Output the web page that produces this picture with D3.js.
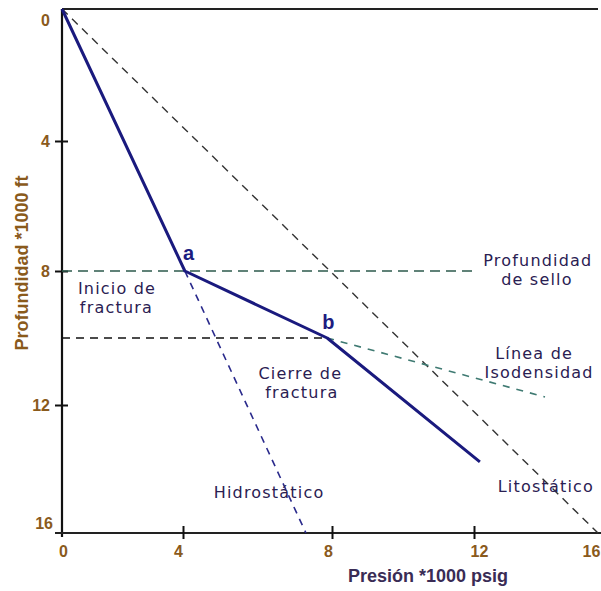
<!DOCTYPE html>
<html>
<head>
<meta charset="utf-8">
<script src="https://cdn.jsdelivr.net/npm/d3@7/dist/d3.min.js"></script>
<style>
  html, body { margin: 0; padding: 0; background: #fff; }
  svg { display: block; }
</style>
</head>
<body>
<svg id="chart" width="601" height="591"></svg>
<script>
// ---- data ----
const xTicks = [0, 4, 8, 12, 16];
const yTicks = [0, 4, 8, 12, 16];

const fracturePressure = [0, 4.05, 7.87, 12.19];
const fractureDepth    = [0, 8, 10, 13.78];

const hydroPressure = [4.05, 7.3];
const hydroDepth    = [8, 16];

const lithoPressure = [0, 16];
const lithoDepth    = [0, 16];

const isoPressure = [7.87, 14.29];
const isoDepth    = [10, 11.76];

const sealPressure = [0, 11.95];
const sealDepth    = [8, 8];

const closurePressure = [0, 7.87];
const closureDepth    = [10, 10];

const annotations = [
  { text: "Inicio de",   x: 1.82, y: 8.69 },
  { text: "fractura",    x: 1.8,  y: 9.25 },
  { text: "Cierre de",   x: 7.15, y: 11.22 },
  { text: "fractura",    x: 7.19, y: 11.79 },
  { text: "Hidrostático", x: 6.31, y: 14.9 },
  { text: "Litostático",  x: 14.32, y: 14.72 },
  { text: "Profundidad", x: 14.06, y: 7.86 },
  { text: "de sello",    x: 14.03, y: 8.43 },
  { text: "Línea de",    x: 13.94, y: 10.63 },
  { text: "Isodensidad", x: 14.1, y: 11.19 }
];
const points = [
  { text: "a", x: 4.15, y: 7.65 },
  { text: "b", x: 7.9,  y: 9.72 }
];

// ---- scales ----
const svg = d3.select("#chart");
const x = d3.scaleLinear().domain(xTicks).range([62, 183, 332, 474, 598]);
const y = d3.scaleLinear().domain(yTicks).range([9, 141, 271, 405, 533]);

const zip = (a, b) => a.map((v, i) => [v, b[i]]);
const line = d3.line().x(d => x(d[0])).y(d => y(d[1]));

// ---- frame ----
svg.append("line").attr("x1", x(0)).attr("x2", x(16)).attr("y1", y(0)).attr("y2", y(0))
  .attr("stroke", "#222").attr("stroke-width", 2);
svg.append("line").attr("x1", x(0)).attr("x2", x(0)).attr("y1", y(0)).attr("y2", y(16) + 4)
  .attr("stroke", "#111").attr("stroke-width", 2.2);
svg.append("line").attr("x1", x(0) - 7).attr("x2", x(16) + 3).attr("y1", y(16)).attr("y2", y(16))
  .attr("stroke", "#222").attr("stroke-width", 2.2);

// ---- axes ----
const yAxis = d3.axisLeft(y).tickValues(yTicks).tickSize(13).tickPadding(5).tickFormat(d3.format("d"));
const gy = svg.append("g").attr("transform", `translate(${x(0) + 6},0)`).call(yAxis);
gy.select(".domain").remove();
gy.selectAll(".tick line").attr("stroke", "#111").attr("stroke-width", 2)
  .style("display", d => (d === 0 || d === 16) ? "none" : null);
gy.selectAll(".tick text")
  .attr("font-family", "'Liberation Sans', Arial, sans-serif")
  .attr("font-weight", "bold").attr("font-size", 16).attr("fill", "#8a5a1c")
  .attr("dy", d => d === 0 ? "1.0em" : d === 16 ? "-0.3em" : "0.34em")
  .attr("dx", d => d === 16 ? 3 : 0);

const xAxis = d3.axisBottom(x).tickValues(xTicks).tickSize(13).tickPadding(7).tickFormat(d3.format("d"));
const gx = svg.append("g").attr("transform", `translate(0,${y(16) - 7})`).call(xAxis);
gx.select(".domain").remove();
gx.selectAll(".tick line").attr("stroke", "#111").attr("stroke-width", 2)
  .style("display", d => (d === 0 || d === 16) ? "none" : null);
gx.selectAll(".tick text")
  .attr("font-family", "'Liberation Sans', Arial, sans-serif")
  .attr("font-weight", "bold").attr("font-size", 16).attr("fill", "#8a5a1c")
  .attr("dx", d => d === 16 ? -7 : d === 12 ? 5 : d === 4 ? -5 : d === 8 ? -4 : 1);

// axis titles
svg.append("text").attr("x", 428).attr("y", 582).attr("text-anchor", "middle")
  .attr("font-family", "'Liberation Sans', Arial, sans-serif").attr("font-weight", "bold")
  .attr("font-size", 18).attr("fill", "#3a2c55").text("Presión *1000 psig");
svg.append("text").attr("transform", "translate(28,263) rotate(-90)").attr("text-anchor", "middle")
  .attr("font-family", "'Liberation Sans', Arial, sans-serif").attr("font-weight", "bold")
  .attr("font-size", 18).attr("fill", "#8a5a1c").text("Profundidad *1000 ft");

// ---- reference lines ----
svg.append("path").attr("d", line(zip(lithoPressure, lithoDepth)))
  .attr("fill", "none").attr("stroke", "#333").attr("stroke-width", 1.4).attr("stroke-dasharray", "8,6");
svg.append("path").attr("d", line(zip(sealPressure, sealDepth)))
  .attr("fill", "none").attr("stroke", "#2d5a4c").attr("stroke-width", 1.6).attr("stroke-dasharray", "10,6");
svg.append("path").attr("d", line(zip(closurePressure, closureDepth)))
  .attr("fill", "none").attr("stroke", "#111").attr("stroke-width", 1.4).attr("stroke-dasharray", "8,6");
svg.append("path").attr("d", line(zip(isoPressure, isoDepth)))
  .attr("fill", "none").attr("stroke", "#3f7a72").attr("stroke-width", 1.6).attr("stroke-dasharray", "7,7");
svg.append("path").attr("d", line(zip(hydroPressure, hydroDepth)))
  .attr("fill", "none").attr("stroke", "#2a2a8c").attr("stroke-width", 1.6).attr("stroke-dasharray", "7,6");

// ---- fracture path ----
svg.append("path").attr("d", line(zip(fracturePressure, fractureDepth)))
  .attr("fill", "none").attr("stroke", "#1a1a7e").attr("stroke-width", 3).attr("stroke-linejoin", "round");

// ---- annotations ----
svg.selectAll("text.ann").data(annotations).enter().append("text").attr("class", "ann")
  .attr("x", d => x(d.x)).attr("y", d => y(d.y)).attr("text-anchor", "middle")
  .attr("font-family", "'DejaVu Sans', Verdana, sans-serif").attr("font-size", 16)
  .attr("letter-spacing", "1.2px")
  .attr("fill", "#2a2052").text(d => d.text);

svg.selectAll("text.pt").data(points).enter().append("text").attr("class", "pt")
  .attr("x", d => x(d.x)).attr("y", d => y(d.y)).attr("text-anchor", "middle")
  .attr("font-family", "'Liberation Sans', Arial, sans-serif").attr("font-weight", "bold")
  .attr("font-size", 20).attr("fill", "#1c1c80").text(d => d.text);
</script>
</body>
</html>
